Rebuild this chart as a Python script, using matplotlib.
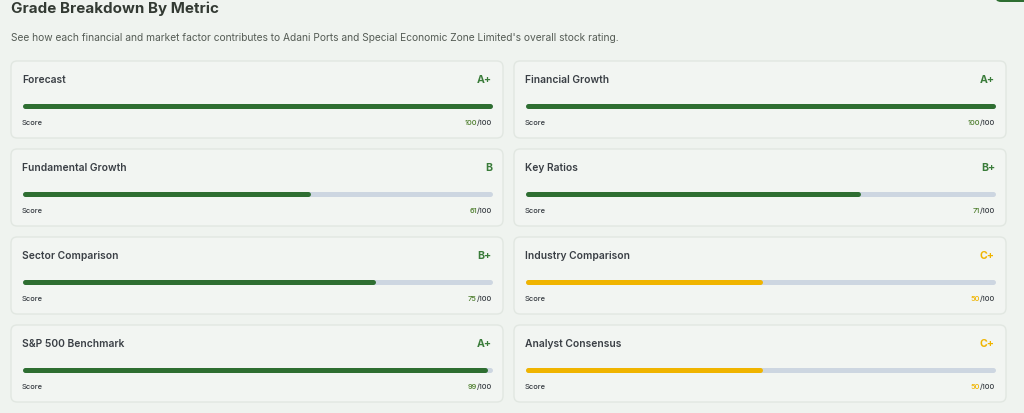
import matplotlib.pyplot as plt
from matplotlib.patches import FancyBboxPatch

plt.rcParams['font.family'] = ['Inter', 'DejaVu Sans']

# data
metrics = ["Forecast", "Financial Growth", "Fundamental Growth", "Key Ratios",
           "Sector Comparison", "Industry Comparison", "S&P 500 Benchmark", "Analyst Consensus"]
grades = ["A+", "A+", "B", "B+", "B+", "C+", "A+", "C+"]
scores = [100, 100, 61, 71, 75, 50, 99, 50]

title = "Grade Breakdown By Metric"
subtitle = ("See how each financial and market factor contributes to Adani Ports and "
            "Special Economic Zone Limited's overall stock rating.")

BG = "#eff3ef"
CARD = "#f2f5f2"
EDGE = "#e1e7e1"
GREEN = "#2e6e31"
GRADE_GREEN = "#3a7c3a"
SCORE_GREEN = "#4f7f2f"
ORANGE = "#f0b400"
TRACK = "#cdd6e1"
DARK = "#333a33"

W, H = 1024, 414
fig = plt.figure(figsize=(W / 100, H / 100), dpi=100, facecolor=BG)
ax = fig.add_axes([0, 0, 1, 1])
ax.set_xlim(0, W)
ax.set_ylim(H, 0)
ax.axis('off')

ax.text(11, 9, title, fontsize=10.9, fontweight='bold', color=DARK, va='center', ha='left')
ax.text(11, 38, subtitle, fontsize=7.35, color="#555c55", va='center', ha='left')

# little green button peeking in at the top right
ax.add_patch(FancyBboxPatch((995, -30), 60, 33, boxstyle="round,pad=0,rounding_size=6",
                            fc=GREEN, ec="none", zorder=3))

card_w, card_h = 492, 77
col_x = [11, 514]
row_y = [62, 150, 238, 326]

for i, (name, grade, score) in enumerate(zip(metrics, grades, scores)):
    cx = col_x[i % 2]
    cy = row_y[i // 2]
    col = GREEN if score >= 60 else ORANGE
    gcol = GRADE_GREEN if score >= 60 else ORANGE
    scol = SCORE_GREEN if score >= 60 else ORANGE

    ax.add_patch(FancyBboxPatch((cx, cy), card_w, card_h,
                                boxstyle="round,pad=0,rounding_size=6",
                                fc=CARD, ec=EDGE, lw=1.0, zorder=1))
    ax.text(cx + 11, cy + 18, name, fontsize=7.4, fontweight='semibold',
            color="#3a3f45", va='center', ha='left', zorder=2)
    ax.text(cx + card_w - 11, cy + 18, grade, fontsize=7.6, fontweight='bold',
            color=gcol, va='center', ha='right', zorder=2)
    ax.text(cx + 11, cy + 61, "Score", fontsize=5.4, fontweight='medium',
            color="#3a3f45", va='center', ha='left', zorder=2)
    # score value coloured, "/100" dark
    t = ax.text(cx + card_w - 11, cy + 61, "/100", fontsize=5.4, fontweight='medium',
                color="#3a3f45", va='center', ha='right', zorder=2)
    fig.canvas.draw()
    x0 = t.get_window_extent().x0
    ax.annotate(str(score), xy=(x0, H - (cy + 61)), xycoords='figure pixels',
                fontsize=5.4, fontweight='medium', color=scol,
                va='center', ha='right', zorder=2)

    # bar: its own axes running 0..100
    bx0 = cx + 11 + 2.5
    bx1 = cx + card_w - 11 - 2.5
    by = cy + 45
    bax = fig.add_axes([bx0 / W, (H - by - 4) / H, (bx1 - bx0) / W, 8 / H])
    bax.set_xlim(0, 100)
    bax.set_ylim(-1, 1)
    bax.axis('off')
    bax.plot([0, 100], [0, 0], color=TRACK, lw=3.6, solid_capstyle='round', clip_on=False)
    bax.plot([0, score], [0, 0], color=col, lw=3.6, solid_capstyle='round', clip_on=False)

fig.savefig("out.png", dpi=100, facecolor=BG)
